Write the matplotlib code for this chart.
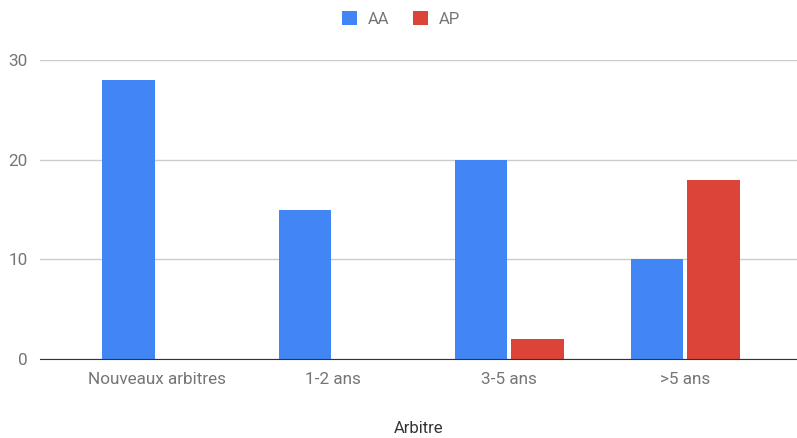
import matplotlib
matplotlib.use('Agg')
import matplotlib.pyplot as plt
import numpy as np

plt.rcParams['font.family'] = ['Roboto', 'DejaVu Sans']

categories = ['Nouveaux arbitres', '1-2 ans', '3-5 ans', '>5 ans']
aa = [28, 15, 20, 10]
ap = [0, 0, 2, 18]

fig = plt.figure(figsize=(7.97, 4.38), dpi=100)
ax = fig.add_axes([40 / 797, 1 - 359 / 438, 757 / 797, 299 / 438])

x = np.arange(len(categories))
w = 0.30
gap = 0.01
ax.bar(x - w / 2 - gap, aa, width=w, color='#4285F4', label='AA', zorder=3)
ax.bar(x + w / 2 + gap, ap, width=w, color='#DB4437', label='AP', zorder=3)

ax.set_xlim(-0.665, 3.635)
ax.set_ylim(0, 30)
ax.set_yticks([0, 10, 20, 30])
ax.yaxis.grid(True, color='#cccccc', linewidth=1, zorder=0)
ax.set_xticks(x)
ax.set_xticklabels(categories)
ax.tick_params(axis='both', length=0, labelsize=12.3, colors='#757575')
ax.tick_params(axis='x', pad=9)
ax.tick_params(axis='y', pad=9)
for s in ['top', 'right', 'left']:
    ax.spines[s].set_visible(False)
ax.spines['bottom'].set_color('#333333')
ax.spines['bottom'].set_zorder(4)

ax.set_xlabel('Arbitre', fontsize=12, color='#333333', labelpad=25)

fig.legend(loc='upper center', bbox_to_anchor=(0.503, 1.008), ncol=2, frameon=False,
           fontsize=12, handlelength=0.9, handleheight=0.9, columnspacing=1.45,
           handletextpad=0.65, labelcolor='#757575')

fig.savefig('out.png', dpi=100)
